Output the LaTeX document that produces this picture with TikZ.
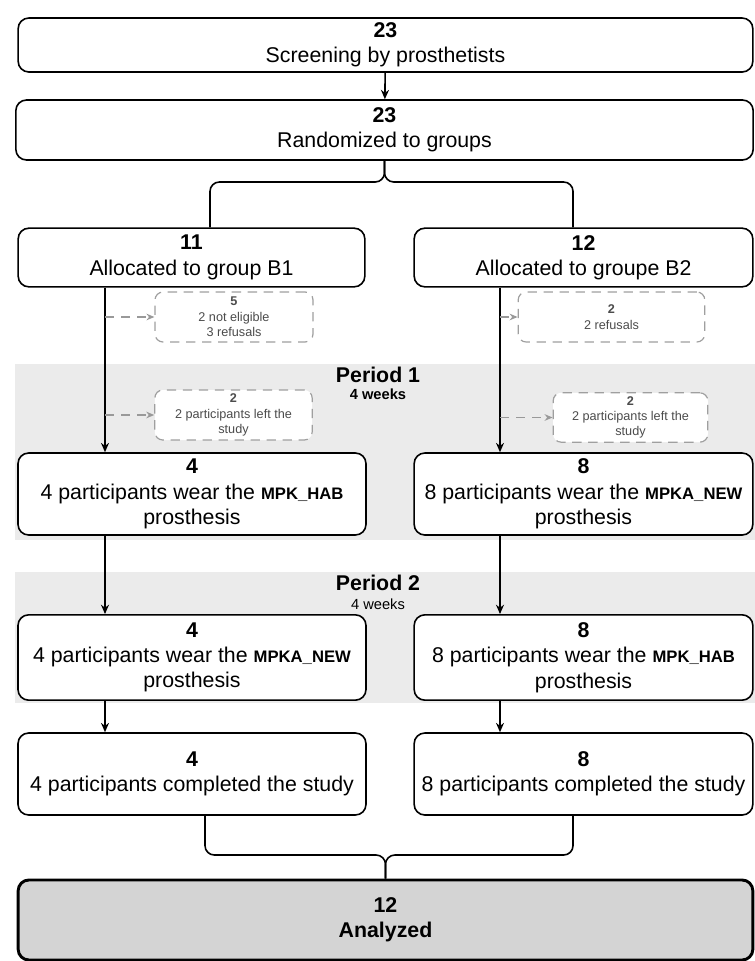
\documentclass[tikz,border=0pt]{standalone}
\usepackage{fontspec}
\setmainfont{Liberation Sans}
\usetikzlibrary{arrows.meta}

\tikzset{
  box/.style={draw, line width=1.2pt, rounded corners=8pt, fill=white, align=center,
    inner sep=2pt, font=\fontsize{16}{19}\selectfont},
  dropbox/.style={draw=gray!75, dash pattern=on 7pt off 5pt, line width=0.9pt,
    rounded corners=6pt, fill=white, align=center, inner sep=1pt,
    text=black!70, font=\fontsize{9.5}{11.5}\selectfont},
  flow/.style={-{Stealth[length=7pt,width=6pt]}, line width=0.9pt},
  dropflow/.style={-{Stealth[length=6pt,width=5pt]}, draw=gray!80,
    dash pattern=on 7pt off 5pt, line width=0.9pt},
  bracket/.style={line width=1.2pt, rounded corners=7pt},
  band/.style={fill=black!8},
  period/.style={inner sep=0pt, font=\fontsize{16}{19}\selectfont\bfseries},
}
\newcommand{\knee}[1]{{\fontsize{12.5}{15}\selectfont\bfseries #1}}

\begin{document}
\begin{tikzpicture}[x=0.75pt, y=-0.75pt]
    \useasboundingbox (0,0) rectangle (755,961);

    % periods
    \fill[band] (15,364) rectangle (755,540);
    \fill[band] (15,572) rectangle (755,703);
    \node (per1) at (378,375) [period] {Period 1};
    \node (wk1) at (378,394) [inner sep=0pt, font=\fontsize{11}{13}\selectfont\bfseries] {4 weeks};
    \node (per2) at (378,583) [period] {Period 2};
    \node (wk2) at (378,604) [inner sep=0pt, font=\fontsize{11}{13}\selectfont] {4 weeks};

    \node (screen) at (385.5,45) [box, minimum width=551pt, minimum height=40.5pt] {\textbf{23}\\Screening by prosthetists};
    \node (rand) at (384.5,130) [box, minimum width=553pt, minimum height=45pt] {\textbf{23}\\Randomized to groups};

    \node (b1) at (191.5,257.5) [box, minimum width=260pt, minimum height=44pt] {\textbf{11}\\Allocated to group B1};
    \node (b2) at (583.5,257.5) [box, minimum width=254pt, minimum height=44pt] {\textbf{12}\\Allocated to groupe B2};

    \node (out1) at (234,317) [dropbox, minimum width=118.5pt, minimum height=37.5pt] {\textbf{5}\\2 not eligible\\3 refusals};
    \node (out2) at (611.5,317) [dropbox, minimum width=140pt, minimum height=37.5pt] {\textbf{2}\\2 refusals};
    \node (left1) at (233.5,415) [dropbox, minimum width=118pt, minimum height=37.5pt] {\textbf{2}\\2 participants left the\\study};
    \node (left2) at (630.5,417.5) [dropbox, minimum width=116pt, minimum height=37pt] {\textbf{2}\\2 participants left the\\study};

    \node (wear1) at (192,494) [box, minimum width=261pt, minimum height=61.5pt] {\textbf{4}\\4 participants wear the \knee{MPK\_HAB}\\prosthesis};
    \node (wear2) at (583.5,494) [box, minimum width=254pt, minimum height=61.5pt] {\textbf{8}\\8 participants wear the \knee{MPKA\_NEW}\\prosthesis};

    \node (swap1) at (192,657.5) [box, minimum width=261pt, minimum height=64pt] {\textbf{4}\\4 participants wear the \knee{MPKA\_NEW}\\prosthesis};
    \node (swap2) at (583.5,657.5) [box, minimum width=254pt, minimum height=64pt] {\textbf{8}\\8 participants wear the \knee{MPK\_HAB}\\prosthesis};

    \node (done1) at (192,774) [box, minimum width=261pt, minimum height=61.5pt] {\textbf{4}\\4 participants completed the study};
    \node (done2) at (583.5,774) [box, minimum width=254pt, minimum height=61.5pt] {\textbf{8}\\8 participants completed the study};

    \node (ana) at (385.5,920) [box, line width=2.2pt, fill=black!17, minimum width=551pt, minimum height=60pt, font=\fontsize{16}{19}\selectfont\bfseries] {12\\Analyzed};

    \coordinate (colL) at (105,0);
    \coordinate (colR) at (500,0);
    \coordinate (splitL) at (210,182);
    \coordinate (splitR) at (573,182);
    \coordinate (mergeL) at (205,855);
    \coordinate (mergeR) at (573,855);

    \draw[flow, line width=1.2pt] (screen) -- (rand);
    \draw[bracket] (b1.north -| splitL) -- (splitL) -- (splitL -| rand.south) -- (rand.south);
    \draw[bracket] (b2.north -| splitR) -- (splitR) -- (splitR -| rand.south) -- (rand.south);

    \draw[flow] (b1.south -| colL) -- (wear1.north -| colL);
    \draw[flow] (b2.south -| colR) -- (wear2.north -| colR);
    \draw[dropflow] (colL |- out1.west) -- (out1.west);
    \draw[dropflow] (colR |- out2.west) -- (out2.west);
    \draw[dropflow] (colL |- left1.west) -- (left1.west);
    \draw[dropflow] (colR |- left2.west) -- (left2.west);

    \draw[flow] (wear1.south -| colL) -- (swap1.north -| colL);
    \draw[flow] (wear2.south -| colR) -- (swap2.north -| colR);
    \draw[flow] (swap1.south -| colL) -- (done1.north -| colL);
    \draw[flow] (swap2.south -| colR) -- (done2.north -| colR);

    \draw[bracket] (done1.south -| mergeL) -- (mergeL) -- (mergeL -| ana.north) -- (ana.north);
    \draw[bracket] (done2.south -| mergeR) -- (mergeR) -- (mergeR -| ana.north) -- (ana.north);
\end{tikzpicture}
\end{document}
